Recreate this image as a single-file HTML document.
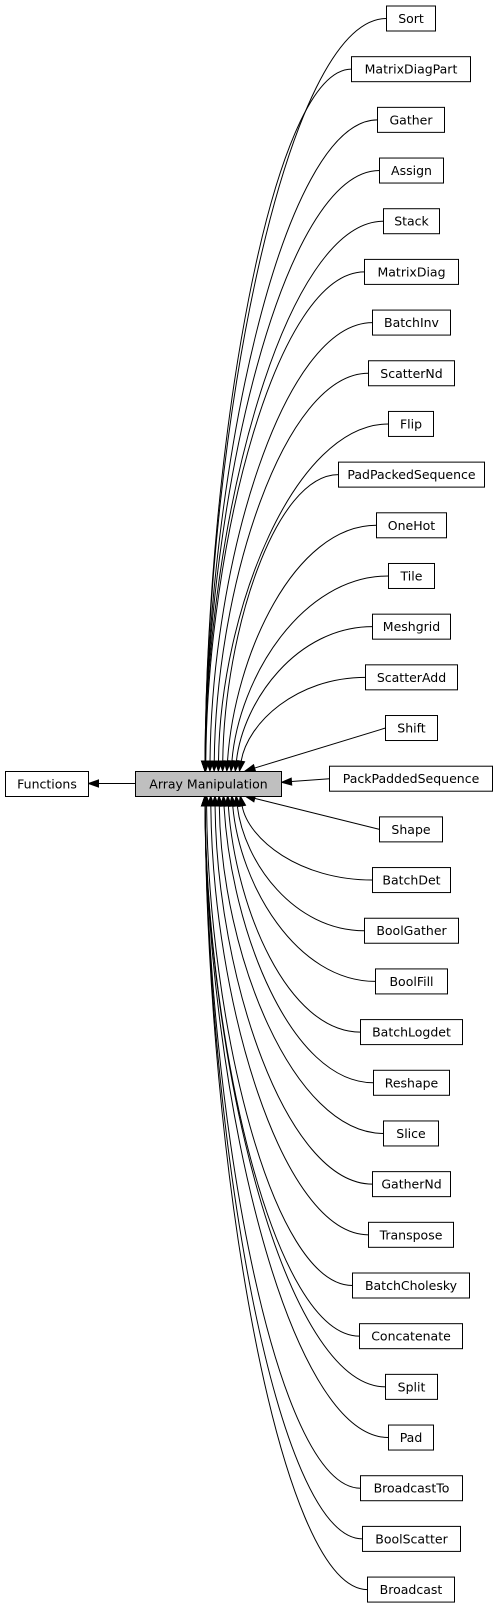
<!DOCTYPE html>
<html><head><meta charset="utf-8"><style>
body{margin:0;background:#fff;width:497px;height:1608px;overflow:hidden;font-family:"DejaVu Sans","Liberation Sans",sans-serif}
svg{position:absolute;left:0;top:0}
</style></head><body>
<svg id="g" width="497" height="1608" xmlns="http://www.w3.org/2000/svg"></svg>
<script>
var names=[["Sort",49],["MatrixDiagPart",119],["Gather",67],["Assign",64],["Stack",56],["MatrixDiag",94],["BatchInv",78],["ScatterNd",86],["Flip",45],["PadPackedSequence",146],["OneHot",70],["Tile",46],["Meshgrid",78],["ScatterAdd",92],["Shift",52],["PackPaddedSequence",163],["Shape",63],["BatchDet",78],["BoolGather",94],["BoolFill",72],["BatchLogdet",102],["Reshape",76],["Slice",55],["GatherNd",78],["Transpose",85],["BatchCholesky",117],["Concatenate",103],["Split",52],["Pad",45],["BroadcastTo",102],["BoolScatter",98],["Broadcast",87]];
var s="";
function box(x,y,w,h,t,fill){s+='<rect x="'+x+'" y="'+y+'" width="'+w+'" height="'+h+'" fill="'+fill+'" stroke="#000" stroke-width="1"/>';
s+='<text x="'+(x+w/2)+'" y="'+(y+h/2+4.5)+'" text-anchor="middle" font-size="12.5" font-family="DejaVu Sans, Liberation Sans, sans-serif">'+t+'</text>';}
function arrow(tx,ty,fx,fy){var dx=tx-fx,dy=ty-fy,L=Math.hypot(dx,dy);dx/=L;dy/=L;var bx=tx-dx*10,by=ty-dy*10;
s+='<polygon points="'+tx+','+ty+' '+(bx-dy*3.5)+','+(by+dx*3.5)+' '+(bx+dy*3.5)+','+(by-dx*3.5)+'" fill="#000" stroke="#000"/>';return [bx,by];}
var cyA=783.5;
var b=arrow(88.5,cyA,135,cyA);s+='<line x1="135" y1="'+cyA+'" x2="'+b[0]+'" y2="'+cyA+'" stroke="#000"/>';
names.forEach(function(n,i){
var top=6+i*50.68,cy=top+12.5,w=n[1],left=Math.round(410.5-w/2)+0.5;
var dy=cy-cyA;
if(Math.abs(dy)<30){var ty=cyA+dy*0.25;var b=arrow(281.5,ty,left,cy);s+='<line x1="'+left+'" y1="'+cy+'" x2="'+b[0]+'" y2="'+b[1]+'" stroke="#000"/>';}
else if(Math.abs(dy)<90){var ty=dy<0?771:796;var tx=245;var b=arrow(tx,ty,left,cy);s+='<line x1="'+left+'" y1="'+cy+'" x2="'+b[0]+'" y2="'+b[1]+'" stroke="#000"/>';}
else{var ad=Math.abs(dy),sg=dy<0?-1:1;var ty=dy<0?771:796;
var tx=Math.max(205,240-(ad-100)/12);
var c2x=tx+(ad>300?2:8),c2y=ty+sg*ad*0.45;
var b=arrow(tx,ty,c2x,c2y);
var c1x=left-(left-tx)*0.55,c1y=cy;
s+='<path d="M'+left+','+cy+' C'+c1x+','+c1y+' '+c2x+','+c2y+' '+b[0]+','+b[1]+'" fill="none" stroke="#000"/>';}
box(left,top,w,25,n[0],"#fff");
});
box(5.5,771.5,83,25,"Functions","#fff");
box(135.5,771.5,146,25,"Array Manipulation","#bfbfbf");
document.getElementById("g").innerHTML=s;
</script>
</body></html>
